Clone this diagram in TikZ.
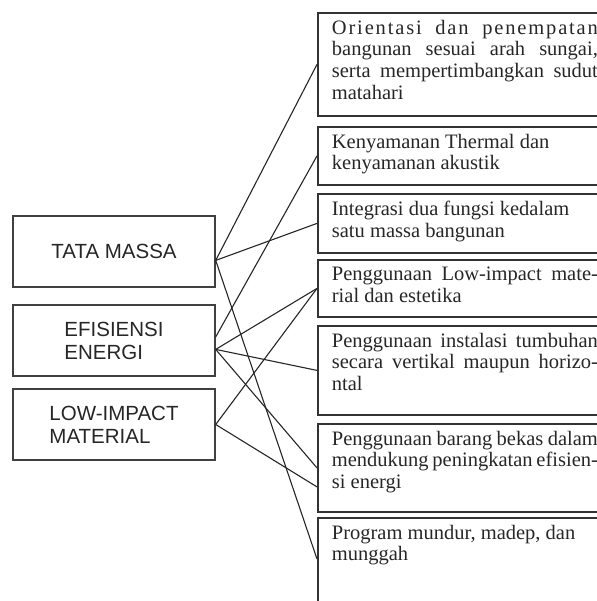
\documentclass[tikz,border=0pt]{standalone}
\usepackage{fontspec}
\setmainfont{Liberation Serif}
\newfontfamily\headfont{Liberation Sans}
\newcommand{\cellbox}[2]{\parbox[c][#1][t]{266bp}{#2}}

\begin{document}
\begin{tikzpicture}[
  x=1bp, y=-1bp,
  every node/.style={text=black!85},
  aspect/.style={draw=black!75, line width=1.4bp, minimum width=202bp,
                 minimum height=71bp, inner sep=0pt, align=left,
                 font=\headfont\fontsize{20.5bp}{23bp}\selectfont},
  point/.style={draw=black!80, line width=1.8bp, anchor=north west,
                inner xsep=14bp, inner ysep=7bp,
                font=\fontsize{20.5bp}{21.7bp}\selectfont},
  link/.style={draw=black!85, line width=1.1bp}
]
\useasboundingbox (0,0) rectangle (597,601);
\clip (0,0) rectangle (597,601);

\node[aspect] (tata) at (114,251.5) {TATA MASSA};
\node[aspect] (efis) at (114,340.5) {EFISIENSI\\ENERGI};
\node[aspect] (low) at (114,424.5) {LOW-IMPACT\\MATERIAL};

\node[point] (b1) at (317,12) {\cellbox{89bp}{{\addfontfeature{LetterSpace=9}Orientasi dan penempatan}\linebreak
  bangunan sesuai arah sungai,\linebreak serta mempertimbangkan sudut\linebreak matahari}};
\node[point] (b2) at (317,126) {\cellbox{44bp}{Kenyamanan Thermal dan\\kenyamanan akustik}};
\node[point] (b3) at (317,193) {\cellbox{45bp}{Integrasi dua fungsi kedalam\\satu massa bangunan}};
\node[point] (b4) at (317,259) {\cellbox{43bp}{Penggunaan Low-impact mate-\linebreak rial dan estetika}};
\node[point] (b5) at (317,325) {\cellbox{75bp}{Penggunaan instalasi tumbuhan\linebreak
  secara vertikal maupun horizo-\linebreak ntal}};
\node[point] (b6) at (317,423) {\cellbox{74bp}{Penggunaan barang bekas dalam\linebreak
  mendukung peningkatan efisien-\linebreak si energi}};
\node[point] (b7) at (317,517) {\cellbox{116bp}{Program mundur, madep, dan\\munggah}};

\coordinate (b6low) at ([yshift=-19bp]b6.west);
\coordinate (b7in) at ([yshift=-42bp]b7.north west);

\draw[link] (tata.-5) -- (b1.west);
\draw[link] (tata.-5) -- (b3.west);
\draw[link] (tata.-5) -- (b7in);
\draw[link] (efis.2) -- (b2.west);
\draw[link] (efis.-5) -- (b4.west);
\draw[link] (efis.-5) -- (b5.west);
\draw[link] (efis.-5) -- (b6.west);
\draw[link] (low.east) -- (b4.west);
\draw[link] (low.east) -- (b6low);

\end{tikzpicture}
\end{document}
